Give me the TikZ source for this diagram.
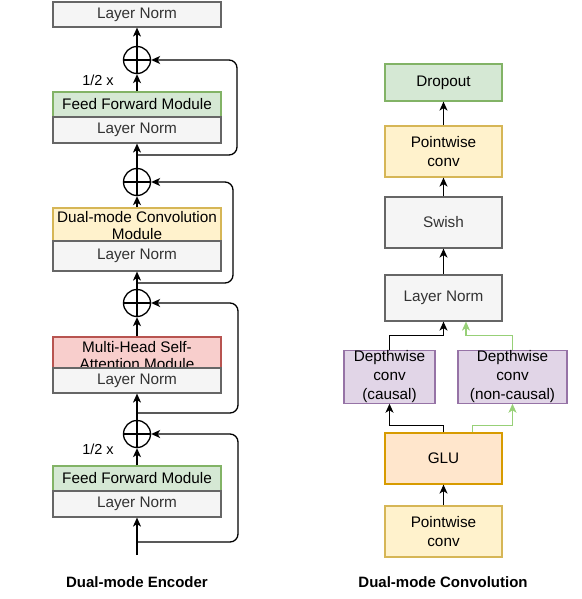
\documentclass[tikz,border=0pt]{standalone}
\usepackage{fontspec}
\setmainfont{Liberation Sans}
\usetikzlibrary{arrows.meta}
\definecolor{lnfill}{HTML}{F5F5F5}
\definecolor{lnline}{HTML}{666666}
\definecolor{lntext}{HTML}{333333}
\definecolor{gfill}{HTML}{D5E8D4}
\definecolor{gline}{HTML}{82B366}
\definecolor{yfill}{HTML}{FFF2CC}
\definecolor{yline}{HTML}{D6B656}
\definecolor{rfill}{HTML}{F8CECC}
\definecolor{rline}{HTML}{B85450}
\definecolor{pfill}{HTML}{E1D5E7}
\definecolor{pline}{HTML}{9673A6}
\definecolor{ofill}{HTML}{FFE6CC}
\definecolor{oline}{HTML}{D79B00}
\definecolor{garrow}{HTML}{97D077}
\begin{document}
\begin{tikzpicture}[x=1pt,y=-1pt,
	box/.style={draw,line width=1.2pt,inner sep=0pt,align=center,font=\fontsize{15.3}{17}\selectfont},
	enc/.style={box,minimum width=168pt},
	conv/.style={box,minimum width=117pt,minimum height=51pt,font=\fontsize{15.3}{19}\selectfont},
	norm/.style={fill=lnfill,draw=lnline,text=lntext},
	ffw/.style={fill=gfill,draw=gline},
	pwc/.style={fill=yfill,draw=yline},
	mhsa/.style={fill=rfill,draw=rline},
	dwise/.style={conv,fill=pfill,draw=pline,minimum height=52pt},
	sum/.style={circle,draw,line width=1.3pt,minimum size=27pt,inner sep=0pt},
	arr/.style={line width=1.3pt,-{Stealth[length=9pt,width=8pt,inset=2.5pt]}},
	res/.style={arr,rounded corners=8pt},
	title/.style={font=\fontsize{15}{17}\selectfont\bfseries}]
	\useasboundingbox (0,0) rectangle (581,599);

	% dual-mode encoder
	\node[enc,norm,minimum height=25pt] (ln5) at (137,14.5) {Layer Norm};
	\node[sum] (s4) at (137,60) {};
	\node[enc,ffw,minimum height=25pt] (ff2) at (137,104.5) {Feed Forward Module};
	\node[enc,norm,minimum height=26pt] (ln4) at (137,130) {Layer Norm};
	\node[sum] (s3) at (137,182) {};
	\node[enc,pwc,minimum height=33pt] (dconv) at (137,224.5) {};
	\node[box,draw=none] (dconvtext) at ([yshift=-1.5pt]dconv.center) {Dual-mode Convolution\\Module};
	\node[enc,norm,minimum height=30pt] (ln3) at (137,256) {Layer Norm};
	\node[sum] (s2) at (137,303) {};
	\node[enc,mhsa,minimum height=31pt] (att) at (137,352.5) {};
	\node[box,draw=none] (atttext) at ([yshift=-3.5pt]att.center) {Multi-Head Self-\\Attention Module};
	\node[enc,norm,minimum height=25pt] (ln2) at (137,380.5) {Layer Norm};
	\node[sum] (s1) at (137,434) {};
	\node[enc,ffw,minimum height=25pt] (ff1) at (137,478.5) {Feed Forward Module};
	\node[enc,norm,minimum height=26pt] (ln1) at (137,504) {Layer Norm};
	\node[font=\fontsize{14.5}{16}\selectfont] (half2) at (98,80) {1/2 x};
	\node[font=\fontsize{14.5}{16}\selectfont] (half1) at (98,449) {1/2 x};
	\foreach \s in {s1,s2,s3,s4}
		\draw[line width=1.3pt] (\s.north) -- (\s.south) (\s.west) -- (\s.east);

	\coordinate (in) at (137,555);
	\coordinate (b1) at (137,542);
	\coordinate (b2) at (137,413);
	\coordinate (b3) at (137,283);
	\coordinate (b4) at (137,155);

	\draw[arr] (in) -- (ln1);
	\draw[arr] (ff1) -- (s1);
	\draw[arr] (s1) -- (ln2);
	\draw[arr] (att) -- (s2);
	\draw[arr] (s2) -- (ln3);
	\draw[arr] (dconv) -- (s3);
	\draw[arr] (s3) -- (ln4);
	\draw[arr] (ff2) -- (s4);
	\draw[arr] (s4) -- (ln5);

	\draw[res] (b1) -- ++(101,0) |- (s1.east);
	\draw[res] (b2) -- ++(101,0) |- (s2.east);
	\draw[res] (b3) -- ++(96,0) |- (s3.east);
	\draw[res] (b4) -- ++(100,0) |- (s4.east);

	\node[title] (enctitle) at (137,582) {Dual-mode Encoder};

	% dual-mode convolution
	\node[conv,ffw,minimum height=37pt] (drop) at (443.5,82.5) {Dropout};
	\node[conv,pwc] (pw2) at (443.5,151.5) {Pointwise\\conv};
	\node[conv,norm] (swish) at (443.5,222.5) {Swish};
	\node[conv,norm,minimum height=46pt] (lnr) at (443.5,298) {Layer Norm};
	\node[dwise,minimum width=91pt] (dwc) at (389.5,377) {Depthwise\\conv\\(causal)};
	\node[dwise,minimum width=109pt] (dwn) at (512.5,377) {Depthwise\\conv\\(non-causal)};
	\node[conv,fill=ofill,draw=oline] (glu) at (443.5,458.5) {GLU};
	\node[conv,pwc] (pw1) at (443.5,531.5) {Pointwise\\conv};

	\draw[arr] (pw1) -- (glu);
	\draw[arr] (glu.north) -- ++(0,-7) -| (dwc.south);
	\draw[arr,garrow] ([xshift=29pt]glu.north) -- ++(0,-7) -| (dwn.south);
	\draw[arr] (dwc.north) -- ++(0,-15) -| (lnr.south);
	\draw[arr,garrow] (dwn.north) -- ++(0,-15) -| ([xshift=22.5pt]lnr.south);
	\draw[arr] (lnr) -- (swish);
	\draw[arr] (swish) -- (pw2);
	\draw[arr] (pw2) -- (drop);

	\node[title] (convtitle) at (443,582) {Dual-mode Convolution};
\end{tikzpicture}
\end{document}
